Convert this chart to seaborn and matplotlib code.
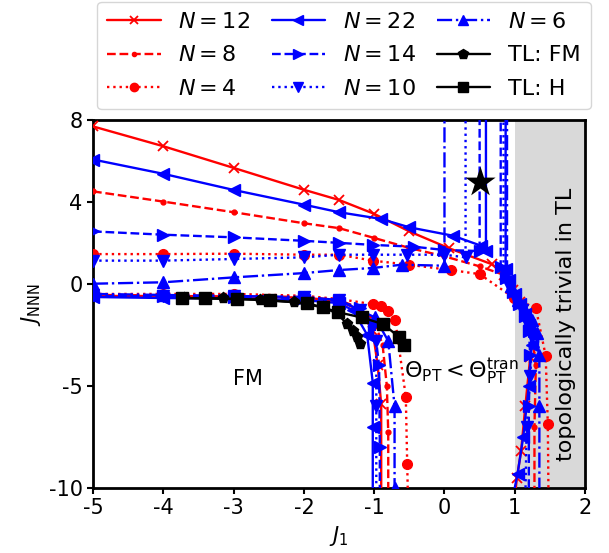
import matplotlib
matplotlib.use("Agg")
import matplotlib.pyplot as plt
from matplotlib.lines import Line2D
import seaborn as sns
import pandas as pd

sns.set_style("ticks")
plt.rcParams["font.family"] = ["DejaVu Sans"]
plt.rcParams["axes.unicode_minus"] = False
plt.rcParams["mathtext.fontset"] = "dejavusans"
for k in ["text.color", "axes.labelcolor", "xtick.color", "ytick.color", "axes.edgecolor"]:
    plt.rcParams[k] = "black"

# ---- finite-size phase boundaries (J1, JNNN) ----
# N = 12
n12_upper_j1 = [-5, -4, -3, -2, -1.5, -1, -0.5, 0.07, 0.67, 0.85, 0.97, 1.07, 1.17, 1.25, 1.22, 1.15, 1.09, 1.03, 1.0]
n12_upper_j = [7.7, 6.73, 5.67, 4.6, 4.1, 3.42, 2.56, 1.73, 0.96, 0.45, -0.3, -0.9, -1.5, -2.2, -3.6, -6.0, -8.2, -9.5, -10.5]
n12_lower_j1 = [-5, -4, -3, -2, -1.5, -1.2, -1.02, -0.95, -0.9, -0.9]
n12_lower_j = [-0.6, -0.6, -0.62, -0.68, -0.85, -1.3, -2.3, -4.0, -5.9, -10.5]

# N = 8
n8_upper_j1 = [-5, -4, -3, -2, -1.5, -1, -0.5, 0, 0.5, 0.83, 0.98, 1.1, 1.22, 1.3, 1.28, 1.28]
n8_upper_j = [4.52, 4.02, 3.5, 2.96, 2.72, 2.24, 1.75, 1.34, 0.85, 0.45, -0.4, -1.1, -1.8, -4.0, -7.0, -10.5]
n8_lower_j1 = [-5, -4, -3, -2, -1.5, -1.2, -1.0, -0.88, -0.82, -0.8, -0.8]
n8_lower_j = [-0.55, -0.57, -0.6, -0.65, -0.8, -1.2, -1.8, -3.0, -5.0, -7.25, -10.5]

# N = 4
n4_upper_j1 = [-5, -4, -3, -2, -1.5, -1.02, -0.51, 0.09, 0.5, 0.99, 1.3, 1.44, 1.47, 1.48]
n4_upper_j = [1.45, 1.45, 1.47, 1.42, 1.42, 1.13, 0.93, 0.67, 0.47, -0.7, -1.2, -3.53, -6.88, -10.5]
n4_lower_j1 = [-5, -4, -3, -2, -1.5, -1.02, -0.9, -0.8, -0.7, -0.55, -0.53, -0.52]
n4_lower_j = [-0.5, -0.5, -0.5, -0.59, -0.75, -1.0, -1.08, -1.32, -1.78, -5.54, -8.84, -10.5]

# N = 22
n22_upper_j1 = [-5, -4, -3, -2, -1.5, -0.9, -0.5, 0.12, 0.52, 0.59, 0.59]
n22_upper_j = [6.08, 5.38, 4.59, 3.87, 3.5, 3.17, 2.76, 2.35, 1.86, 1.6, 8.5]
n22_right_j1 = [0.87, 0.87, 0.92, 1.0, 1.08, 1.15, 1.2, 1.24, 1.2, 1.12, 1.04, 0.97]
n22_right_j = [8.5, 0.7, 0.2, -0.5, -1.0, -1.5, -2.0, -3.0, -5.0, -7.5, -9.3, -10.5]
n22_lower_j1 = [-5, -4, -3, -2, -1.5, -1.3, -1.1, -1.02, -1.02, -1.02]
n22_lower_j = [-0.65, -0.7, -0.72, -0.8, -0.95, -1.3, -2.5, -4.84, -7.0, -10.5]

# N = 14
n14_upper_j1 = [-5, -4, -3, -2, -1.5, -1.02, -0.43, 0, 0.5, 0.5]
n14_upper_j = [2.56, 2.4, 2.27, 2.1, 2.0, 1.9, 1.81, 1.65, 1.6, 8.5]
n14_right_j1 = [0.8, 0.8, 0.88, 0.97, 1.06, 1.14, 1.2, 1.22, 1.2, 1.2]
n14_right_j = [8.5, 0.8, 0.3, -0.4, -1.0, -1.6, -2.3, -3.5, -6.0, -10.5]
n14_lower_j1 = [-5, -4, -3, -2, -1.5, -1.2, -1.0, -0.93, -0.92, -0.92]
n14_lower_j = [-0.6, -0.62, -0.65, -0.7, -0.85, -1.2, -2.0, -4.0, -8.0, -10.5]

# N = 10
n10_upper_j1 = [-5, -4, -3, -2, -1.5, -1.02, -0.53, 0, 0.3, 0.3]
n10_upper_j = [1.13, 1.13, 1.21, 1.29, 1.42, 1.42, 1.42, 1.42, 1.29, 8.5]
n10_right_j1 = [0.84, 0.84, 0.9, 1.0, 1.1, 1.18, 1.25, 1.22, 1.17, 1.15]
n10_right_j = [8.5, 0.6, 0.0, -0.7, -1.3, -1.9, -2.6, -4.5, -7.0, -10.5]
n10_lower_j1 = [-5, -4, -3, -2, -1.5, -1.2, -0.97, -0.97, -0.97]
n10_lower_j = [-0.55, -0.58, -0.6, -0.66, -0.8, -1.3, -2.8, -6.0, -10.5]

# N = 6
n6_upper_j1 = [-5, -4, -3, -2, -1.5, -1.02, -0.61, 0, 0]
n6_upper_j = [0.0, 0.07, 0.31, 0.52, 0.67, 0.77, 0.93, 0.88, 8.5]
n6_right_j1 = [0.89, 0.89, 0.95, 1.05, 1.15, 1.25, 1.32, 1.35, 1.35, 1.35]
n6_right_j = [8.5, 0.4, -0.1, -0.8, -1.3, -1.8, -2.4, -3.5, -6.0, -10.5]
n6_lower_j1 = [-5, -4, -3, -2, -1.5, -0.99, -0.8, -0.71, -0.71]
n6_lower_j = [-0.5, -0.55, -0.6, -0.65, -0.8, -1.65, -2.8, -6.0, -10.0]

# thermodynamic limit
tl_fm_j1 = [-3.7, -3.15, -2.62, -2.14, -1.73, -1.53, -1.39, -1.3, -1.25, -1.2]
tl_fm_j = [-0.7, -0.72, -0.78, -0.9, -1.15, -1.45, -1.95, -2.3, -2.63, -2.96]
tl_h_j1 = [-3.73, -3.4, -2.95, -2.48, -1.96, -1.73, -1.51, -1.18, -0.87, -0.64, -0.57]
tl_h_j = [-0.7, -0.72, -0.75, -0.82, -0.95, -1.16, -1.4, -1.65, -1.98, -2.63, -3.0]

star_j1 = [0.5]
star_j = [5.0]

RED, BLUE = "red", "blue"
styles = {
    "N12": dict(color=RED, linestyle="-", marker="x", markersize=7, mew=1.3),
    "N8": dict(color=RED, linestyle="--", marker=".", markersize=7),
    "N4": dict(color=RED, linestyle=":", marker="o", markersize=7),
    "N22": dict(color=BLUE, linestyle="-", marker="<", markersize=8),
    "N14": dict(color=BLUE, linestyle="--", marker=">", markersize=8),
    "N10": dict(color=BLUE, linestyle=":", marker="v", markersize=8),
    "N6": dict(color=BLUE, linestyle="-.", marker="^", markersize=8),
    "FM": dict(color="black", linestyle="-", marker="p", markersize=8),
    "H": dict(color="black", linestyle="-", marker="s", markersize=8),
}

segments = [
    ("N12", n12_upper_j1, n12_upper_j), ("N12", n12_lower_j1, n12_lower_j),
    ("N8", n8_upper_j1, n8_upper_j), ("N8", n8_lower_j1, n8_lower_j),
    ("N4", n4_upper_j1, n4_upper_j), ("N4", n4_lower_j1, n4_lower_j),
    ("N22", n22_upper_j1, n22_upper_j), ("N22", n22_right_j1, n22_right_j), ("N22", n22_lower_j1, n22_lower_j),
    ("N14", n14_upper_j1, n14_upper_j), ("N14", n14_right_j1, n14_right_j), ("N14", n14_lower_j1, n14_lower_j),
    ("N10", n10_upper_j1, n10_upper_j), ("N10", n10_right_j1, n10_right_j), ("N10", n10_lower_j1, n10_lower_j),
    ("N6", n6_upper_j1, n6_upper_j), ("N6", n6_right_j1, n6_right_j), ("N6", n6_lower_j1, n6_lower_j),
    ("FM", tl_fm_j1, tl_fm_j), ("H", tl_h_j1, tl_h_j),
]

fig = plt.figure(figsize=(6.09, 5.53), dpi=100)
ax = fig.add_axes([0.1527, 0.1175, 0.808, 0.665])

ax.axvspan(1.0, 2.0, color="#d9d9d9", zorder=0, lw=0)

for key, xs, ys in segments:
    df = pd.DataFrame({"J1": xs, "JNNN": ys})
    st = styles[key]
    sns.lineplot(data=df, x="J1", y="JNNN", sort=False, estimator=None, ax=ax,
                 color=st["color"], linestyle=st["linestyle"], marker=st["marker"],
                 markersize=st["markersize"], markeredgecolor=st["color"],
                 markeredgewidth=st.get("mew", 1.0), linewidth=1.7, zorder=3)

sns.scatterplot(x=star_j1, y=star_j, marker="*", s=520, color="black", ax=ax, zorder=5, linewidth=0)

ax.set_xlim(-5, 2)
ax.set_ylim(-10, 8)
ax.set_xticks([-5, -4, -3, -2, -1, 0, 1, 2])
ax.set_yticks([8, 4, 0, -5, -10])
ax.tick_params(labelsize=15, width=1.5, length=4, direction="out", colors="black")
for sp in ax.spines.values():
    sp.set_linewidth(2)
    sp.set_color("black")
ax.set_xlabel(r"$J_1$", fontsize=15)
ax.set_ylabel(r"$J_{\rm NNN}$", fontsize=15)

ax.text(-2.8, -4.65, "FM", fontsize=15, ha="center", va="center")
ax.text(-0.58, -4.6, r"$\Theta_{\rm PT} < \Theta_{\rm PT}^{\rm tran}$", fontsize=16,
        ha="left", va="baseline")
ax.text(1.73, -2.0, "topologically trivial in TL", fontsize=16, rotation=90,
        ha="center", va="center")

labels = {"N12": r"$N = 12$", "N8": r"$N = 8$", "N4": r"$N = 4$",
          "N22": r"$N = 22$", "N14": r"$N = 14$", "N10": r"$N = 10$",
          "N6": r"$N = 6$", "FM": "TL: FM", "H": "TL: H"}
order = ["N12", "N8", "N4", "N22", "N14", "N10", "N6", "FM", "H"]
handles = []
for k in order:
    st = styles[k]
    handles.append(Line2D([], [], color=st["color"], linestyle=st["linestyle"], marker=st["marker"],
                          markersize=st["markersize"] - 1, markeredgewidth=st.get("mew", 1.0),
                          linewidth=1.7, label=labels[k]))
ax.legend(handles=handles, ncol=3, loc="lower center", bbox_to_anchor=(0.51, 1.03),
          fontsize=16, handlelength=2.4, columnspacing=0.95, handletextpad=0.8,
          labelspacing=0.62, borderaxespad=0.0, frameon=True, fancybox=True,
          edgecolor="#cccccc", borderpad=0.45)

fig.savefig("out.png", dpi=100)
